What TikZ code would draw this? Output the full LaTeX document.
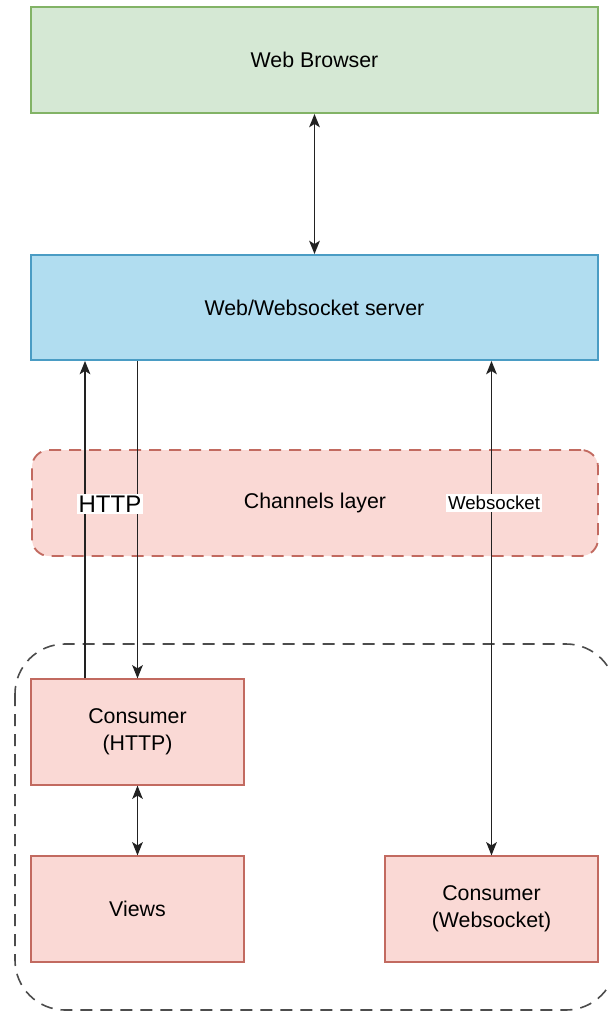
\documentclass[tikz,border=0pt]{standalone}
\usepackage{fontspec}
\setmainfont{Liberation Sans}
\usetikzlibrary{arrows.meta}

\definecolor{greenfill}{HTML}{D5E8D4}
\definecolor{greenline}{HTML}{82B366}
\definecolor{bluefill}{HTML}{B1DDF0}
\definecolor{blueline}{HTML}{4A9CC4}
\definecolor{redfill}{HTML}{FAD9D5}
\definecolor{redline}{HTML}{C26A60}
\definecolor{arrowgray}{HTML}{222222}

\tikzset{
  box/.style={draw, line width=1.4pt, rectangle, align=center,
    font=\fontsize{16}{20}\selectfont, inner sep=0pt},
  browserbox/.style={box, fill=greenfill, draw=greenline,
    minimum width=425.25pt, minimum height=79.5pt},
  serverbox/.style={box, fill=bluefill, draw=blueline,
    minimum width=425.25pt, minimum height=78.75pt},
  layerbox/.style={box, fill=redfill, draw=redline, dashed,
    dash pattern=on 9pt off 6pt, rounded corners=12.75pt,
    minimum width=424.5pt, minimum height=79.5pt},
  compbox/.style={box, fill=redfill, draw=redline,
    minimum width=159.75pt, minimum height=79pt},
  link/.style={draw=arrowgray, line width=1.1pt,
    >={Stealth[length=10pt, width=8pt, inset=2.5pt]}},
  onearrow/.style={link, ->},
  twoarrow/.style={link, <->},
  tag/.style={fill=white, inner sep=1.5pt, text=black},
}

\begin{document}
\begin{tikzpicture}[x=0.75pt, y=-0.75pt]
  \useasboundingbox (0,0) rectangle (608,1014);
  \clip (0,0) rectangle (608,1014);

  % group frame around the consumers and views
  \draw[line width=1.2pt, dash pattern=on 9pt off 6pt, draw=black!70,
        rounded corners=37.5pt] (15,644) rectangle (616,1010);

  % boxes
  \node[browserbox] (browser) at (314.5,60) {Web Browser};
  \node[serverbox]  (server)  at (314.5,307.5) {Web/Websocket server};
  \node[layerbox]   (layer)   at (315,503) {Channels layer};
  \node[compbox]    (chttp)   at (137.5,732) {Consumer\\(HTTP)};
  \node[compbox]    (views)   at (137.5,909) {Views};
  \node[compbox]    (cws)     at (491.5,909) {Consumer\\(Websocket)};

  \coordinate (upx) at (85,0);

  % connectors
  \draw[twoarrow] (browser.south) -- (server.north);
  \draw[onearrow] (chttp.north -| upx) -- (server.south -| upx);
  \draw[onearrow] (server.south -| chttp.north) -- (chttp.north);
  \draw[twoarrow] (server.south -| cws.north) -- (cws.north);
  \draw[twoarrow] (chttp.south) -- (views.north);

  % protocol labels on top of the lines
  \node[tag, font=\fontsize{18}{20}\selectfont] (httptag) at (110,504) {HTTP};
  \node[tag, font=\fontsize{14}{16}\selectfont] (wstag) at (494,503) {Websocket};
\end{tikzpicture}
\end{document}
